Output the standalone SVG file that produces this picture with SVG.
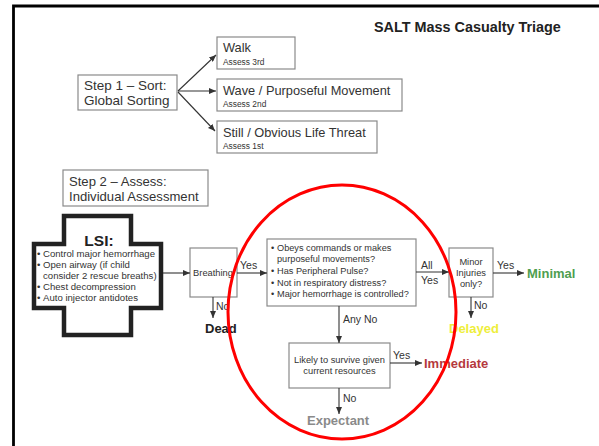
<svg xmlns="http://www.w3.org/2000/svg" width="599" height="446" viewBox="0 0 599 446">
<defs>
<marker id="ah" markerUnits="userSpaceOnUse" markerWidth="7" markerHeight="6" refX="7" refY="3" orient="auto">
<path d="M0,0 L7,3 L0,6 Z" fill="#333"/>
</marker>
<style>
text{font-family:"Liberation Sans",Arial,sans-serif;fill:#333}
.box{fill:#fff;stroke:#8a8a8a;stroke-width:1.2}
.big{font-size:13.5px}
.med{font-size:12.8px}
.sm{font-size:8.4px}
.bx{font-size:9.3px}
.lbl{font-size:10.5px}
.out{font-size:13px;font-weight:bold}
.con path{fill:none;stroke:#333;stroke-width:1.1;marker-end:url(#ah)}
</style>
</defs>
<rect width="599" height="446" fill="#fff"/>
<path d="M13.5,446 V6 H599" fill="none" stroke="#000" stroke-width="2.8"/>
<text x="374" y="32" style="font-size:14.4px;font-weight:bold;fill:#222">SALT Mass Casualty Triage</text>

<g id="sort">
<rect class="box" x="78" y="75" width="99" height="35"/>
<text class="big" x="84" y="90">Step 1 – Sort:</text>
<text class="big" x="84" y="105">Global Sorting</text>
</g>
<g id="walk">
<rect class="box" x="217" y="37" width="78" height="32"/>
<text class="med" x="223" y="52">Walk</text>
<text class="sm" x="223" y="65">Assess 3rd</text>
</g>
<g id="wave">
<rect class="box" x="217" y="79" width="185" height="32"/>
<text class="med" x="223" y="95">Wave / Purposeful Movement</text>
<text class="sm" x="223" y="107">Assess 2nd</text>
</g>
<g id="still">
<rect class="box" x="217" y="121" width="160" height="32"/>
<text class="med" x="223" y="137">Still / Obvious Life Threat</text>
<text class="sm" x="223" y="149">Assess 1st</text>
</g>
<g id="assess">
<rect class="box" x="63" y="170" width="145" height="36"/>
<text style="font-size:13.1px" x="69" y="186">Step 2 – Assess:</text>
<text style="font-size:13.1px" x="69" y="201">Individual Assessment</text>
</g>
<g id="lsi">
<path d="M64,216 H131 V244 H161 V308 H131 V335 H64 V308 H34 V244 H64 Z" fill="#fff" stroke="#222" stroke-width="4.5"/>
<text x="99" y="246" text-anchor="middle" style="font-size:15.5px;font-weight:bold;fill:#222">LSI:</text>
<g style="font-size:9.6px">
<text x="37" y="257">•</text><text x="43" y="257">Control major hemorrhage</text>
<text x="37" y="268">•</text><text x="43" y="268">Open airway (if child</text>
<text x="43" y="279">consider 2 rescue breaths)</text>
<text x="37" y="290">•</text><text x="43" y="290">Chest decompression</text>
<text x="37" y="300.5">•</text><text x="43" y="300.5">Auto injector antidotes</text>
</g>
</g>
<g id="breathing">
<rect class="box" x="190" y="248" width="47" height="49"/>
<text class="bx" x="213" y="276" text-anchor="middle">Breathing</text>
</g>
<g id="obeys">
<rect class="box" x="267" y="239" width="149" height="67"/>
<g style="font-size:9.2px">
<text x="271" y="251">•</text><text x="277" y="251">Obeys commands or makes</text>
<text x="277" y="262">purposeful movements?</text>
<text x="271" y="274">•</text><text x="277" y="274">Has Peripheral Pulse?</text>
<text x="271" y="285.5">•</text><text x="277" y="285.5">Not in respiratory distress?</text>
<text x="271" y="297">•</text><text x="277" y="297">Major hemorrhage is controlled?</text>
</g>
</g>
<g id="minor">
<rect class="box" x="449" y="248" width="44" height="49"/>
<text class="bx" x="471" y="265" text-anchor="middle">Minor</text>
<text class="bx" x="471" y="276" text-anchor="middle">Injuries</text>
<text class="bx" x="471" y="287" text-anchor="middle">only?</text>
</g>
<g id="likely">
<rect class="box" x="289" y="343" width="101" height="45"/>
<text class="bx" x="339.5" y="363" text-anchor="middle">Likely to survive given</text>
<text class="bx" x="339.5" y="374" text-anchor="middle">current resources</text>
</g>
<g id="dead"><text class="out" x="205" y="333" style="fill:#222">Dead</text></g>
<g id="minimal"><text class="out" x="527" y="278" style="fill:#4f9e4f">Minimal</text></g>
<g id="delayed"><text class="out" x="449" y="333" style="fill:#eeee3c">Delayed</text></g>
<g id="immediate"><text class="out" x="424" y="368" style="fill:#b5393d">Immediate</text></g>
<g id="expectant"><text class="out" x="307" y="425" style="fill:#8a8a8a">Expectant</text></g>

<g id="connectors" class="con">
<path d="M178,91 L216,55"/>
<path d="M178,91 L216,91"/>
<path d="M178,92 L215,131"/>
<path d="M163,273 H190"/>
<path d="M237,273 H267"/>
<path d="M213,297 V318"/>
<path d="M339,306 V343"/>
<path d="M416,272 H449"/>
<path d="M493,273 H524"/>
<path d="M471,297 V318"/>
<path d="M390,363 H422"/>
<path d="M339,388 V414"/>
</g>
<g id="labels" class="lbl">
<text class="lbl" x="240" y="269">Yes</text>
<text class="lbl" x="216" y="310">No</text>
<text class="lbl" x="343" y="323">Any No</text>
<text class="lbl" x="421" y="269">All</text>
<text class="lbl" x="421" y="284">Yes</text>
<text class="lbl" x="497" y="269">Yes</text>
<text class="lbl" x="474" y="309">No</text>
<text class="lbl" x="393" y="359">Yes</text>
<text class="lbl" x="343" y="402">No</text>
</g>
<ellipse cx="342" cy="312" rx="114" ry="127" fill="none" stroke="#f00" stroke-width="3"/>
</svg>
